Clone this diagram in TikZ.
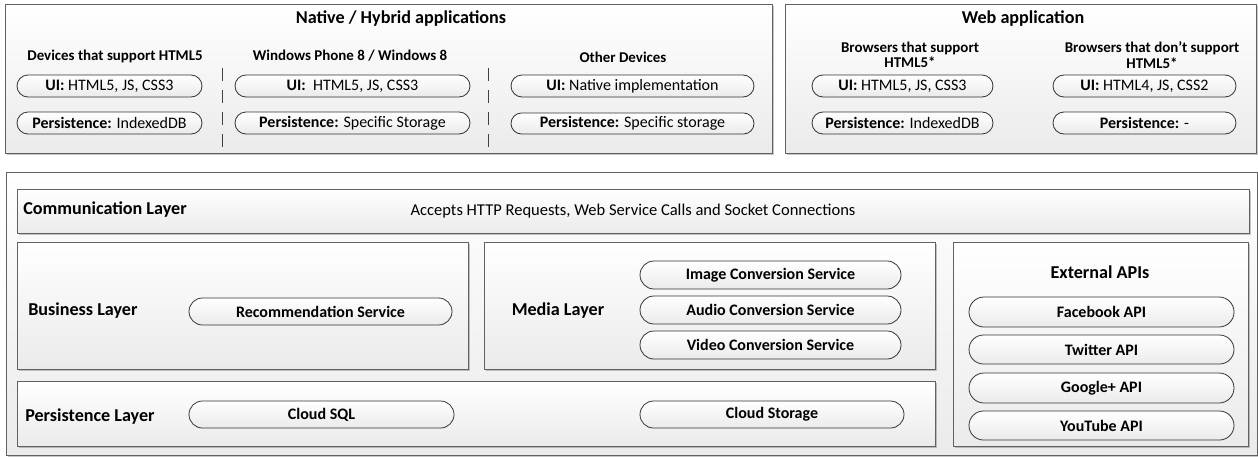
\documentclass[tikz,border=0pt]{standalone}
\usepackage{fontspec}
\setmainfont{Carlito}
\usetikzlibrary{shadows,shapes.misc}

% panel: shaded rectangle given by its corners (pixel-like units)
\newcommand\panelbox[5]{%
  \node[panel, anchor=north west,
        minimum width={(#4-#2)*0.75pt}, minimum height={(#5-#3)*0.75pt}]
        (#1) at (#2,#3) {};}
% capsule-shaped service box given by its corners
\newcommand\capsule[6]{%
  \node[pill, anchor=center,
        minimum width={(#4-#2)*0.75pt}, minimum height={(#5-#3)*0.75pt}]
        (#1) at ({(#2+#4)/2},{(#3+#5)/2}) {};
  \node[pilltext] (#1-t) at (#1.center) {#6};}

\tikzset{
  panel/.style={draw=black!62, line width=0.7pt, inner sep=0pt,
    top color=white, bottom color=black!8,
    drop shadow={shadow xshift=1.1pt, shadow yshift=-1.1pt, fill=black, opacity=0.22}},
  pill/.style={rounded rectangle, draw=black!80, line width=0.6pt, inner sep=0pt,
    top color=white, bottom color=black!8},
  pilltext/.style={inner sep=0pt, font=\fontsize{12}{14}\selectfont},
  title/.style={inner sep=0pt, font=\fontsize{13.6}{16}\selectfont\bfseries},
  colhead/.style={inner sep=0pt, align=center, font=\fontsize{11.2}{11.6}\selectfont\bfseries},
  layer/.style={inner sep=0pt, font=\fontsize{13.6}{16}\selectfont\bfseries},
  sep/.style={draw=black!75, line width=0.6pt, dash pattern=on 9.5pt off 7pt},
}

\begin{document}
\begin{tikzpicture}[x=0.75pt, y=-0.75pt]
\useasboundingbox[fill=white] (0,0) rectangle (1258,457);

% ---------- client side ----------
\panelbox{native}{5}{4}{772}{153}
\panelbox{web}{785}{4}{1256}{153}

\node[title] (nativeT) at (401,19) {Native / Hybrid applications};
\node[title] (webT) at (1023,19) {Web application};

\node[colhead] (h1) at (115,56) {Devices that support HTML5};
\node[colhead] (h2) at (350,56) {Windows Phone 8 / Windows 8};
\node[colhead] (h3) at (623,57) {Other Devices};
\node[colhead] (h4) at (910,55) {Browsers that support\\HTML5*};
\node[colhead] (h5) at (1152,55) {Browsers that don’t support\\HTML5*};

\capsule{n1u}{17}{75}{202}{97}{\textbf{UI:} HTML5, JS, CSS3}
\capsule{n1p}{17}{112}{202}{134}{\textbf{Persistence:} IndexedDB}
\capsule{n2u}{235}{75}{470}{97}{\textbf{UI:}\ \ HTML5, JS, CSS3}
\capsule{n2p}{235}{112}{470}{134}{\textbf{Persistence:} Specific Storage}
\capsule{n3u}{511}{75}{754}{97}{\textbf{UI:} Native implementation}
\capsule{n3p}{511}{113}{754}{134}{\textbf{Persistence:} Specific storage}
\capsule{w1u}{812}{75}{993}{97}{\textbf{UI:} HTML5, JS, CSS3}
\capsule{w1p}{812}{112}{993}{134}{\textbf{Persistence:} IndexedDB}
\capsule{w2u}{1053}{75}{1236}{97}{\textbf{UI:} HTML4, JS, CSS2}
\capsule{w2p}{1053}{112}{1236}{134}{\textbf{Persistence:} -}

\coordinate (s1a) at (222,68);  \coordinate (s1b) at (222,147);
\coordinate (s2a) at (488,68);  \coordinate (s2b) at (488,147);
\draw[sep] (s1a) -- (s1b);
\draw[sep] (s2a) -- (s2b);

% ---------- server side ----------
\panelbox{server}{6}{172}{1257}{455}
\panelbox{comm}{17}{189}{1249}{233}
\panelbox{business}{17}{242}{468}{369}
\panelbox{media}{484}{242}{935}{369}
\panelbox{persist}{17}{381}{935}{446}
\panelbox{ext}{953}{242}{1248}{446}

\node[layer, anchor=west] (commT) at (23,210) {Communication Layer};
\node[inner sep=0pt, font=\fontsize{12.4}{14}\selectfont] (commD) at (633,211)
  {Accepts HTTP Requests, Web Service Calls and Socket Connections};
\node[layer, anchor=west] (busT) at (28,311) {Business Layer};
\node[layer, anchor=west] (perT) at (25,417) {Persistence Layer};
\node[layer] (medT) at (558,311) {Media Layer};
\node[layer] (extT) at (1100,272) {External APIs};

\capsule{rec}{189}{298}{452}{325}{\textbf{Recommendation Service}}
\capsule{sql}{189}{401}{454}{428}{\textbf{Cloud SQL}}
\capsule{img}{640}{261}{901}{289}{\textbf{Image Conversion Service}}
\capsule{aud}{640}{296}{901}{324}{\textbf{Audio Conversion Service}}
\capsule{vid}{640}{331}{901}{359}{\textbf{Video Conversion Service}}
\capsule{stor}{640}{401}{904}{428}{\textbf{Cloud Storage}}
\capsule{fb}{969}{297}{1234}{327}{\textbf{Facebook API}}
\capsule{tw}{969}{335}{1234}{364}{\textbf{Twitter API}}
\capsule{gp}{969}{373}{1234}{403}{\textbf{Google+ API}}
\capsule{yt}{969}{411}{1234}{440}{\textbf{YouTube API}}
\end{tikzpicture}
\end{document}
